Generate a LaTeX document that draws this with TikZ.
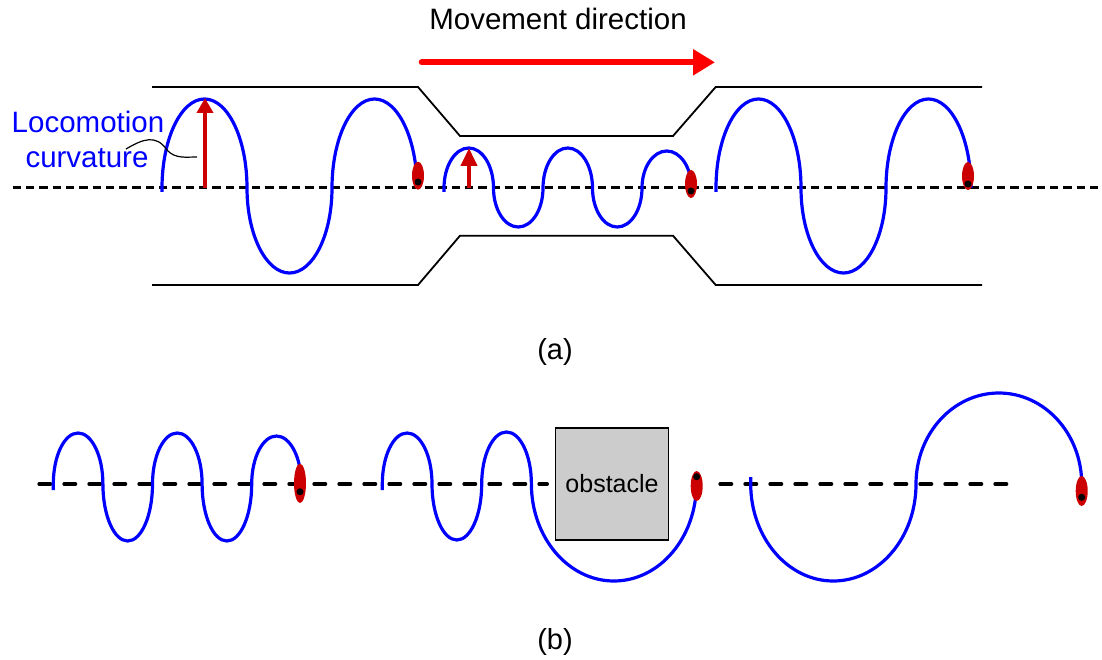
\documentclass[tikz,border=0pt]{standalone}
\usepackage{fontspec}
\setmainfont{Liberation Sans}
\usetikzlibrary{arrows.meta}
\definecolor{snakeblue}{HTML}{0000FF}
\definecolor{headred}{HTML}{CC0000}
\definecolor{movered}{HTML}{FF0000}
\definecolor{obstgray}{HTML}{CCCCCC}
\begin{document}
\begin{tikzpicture}[x=1pt,y=-1pt,
  body/.style={snakeblue, line width=3.2pt},
  wall/.style={black, line width=1.8pt},
  axistop/.style={black, line width=3pt, dash pattern=on 8.3pt off 5pt},
  axisbot/.style={black, line width=4pt, line cap=round, dash pattern=on 11pt off 14pt},
  curvarrow/.style={headred, line width=4pt},
  headshape/.style={fill=headred},
  eye/.style={fill=black},
  lbl/.style={font=\fontsize{29.5}{35}\selectfont, inner sep=0pt},
  sublbl/.style={font=\fontsize{29}{34}\selectfont, inner sep=0pt}]
\useasboundingbox (0,0) rectangle (1102,660);

% ---------- (a) ----------
\node[lbl, anchor=base] (movtxt) at (558,29.3) {Movement direction};
\coordinate (mvS) at (421.7,62.3);
\coordinate (mvE) at (715,62.3);
\draw[movered, line width=6pt, line cap=round, -{Triangle[length=22pt,width=25pt]}] (mvS) -- (mvE);

% walls
\draw[wall] (152,87) -- (418,87) -- (460,136) -- (673,136) -- (715.7,87) -- (982,87);
\draw[wall] (152,285) -- (418,285) -- (460,235.7) -- (673,235.7) -- (715.7,285) -- (982,285);

% axis
\coordinate (axAS) at (12.7,188);
\coordinate (axAE) at (1102,188);
\draw[axistop] (axAS) -- (axAE);

% snakes
\draw[body] (162,192) -- (162,188)
  arc[start angle=180,end angle=360,x radius=42.5,y radius=89]
  arc[start angle=180,end angle=0,x radius=42.5,y radius=85]
  arc[start angle=180,end angle=360,x radius=42.5,y radius=89];
\draw[body] (444,192) -- (444,188)
  arc[start angle=180,end angle=360,x radius=24.75,y radius=40]
  arc[start angle=180,end angle=0,x radius=24.75,y radius=39]
  arc[start angle=180,end angle=360,x radius=24.75,y radius=40]
  arc[start angle=180,end angle=0,x radius=24.75,y radius=39]
  arc[start angle=180,end angle=360,x radius=24.75,y radius=37];
\draw[body] (716,192) -- (716,188)
  arc[start angle=180,end angle=360,x radius=42.5,y radius=89]
  arc[start angle=180,end angle=0,x radius=42.5,y radius=85]
  arc[start angle=180,end angle=360,x radius=42.5,y radius=89];

% heads
\fill[headshape] (418,175.7) ellipse[x radius=6,y radius=14];
\fill[eye] (418,182) circle[radius=3.5];
\fill[headshape] (691,184) ellipse[x radius=6,y radius=14];
\fill[eye] (691,191) circle[radius=3.5];
\fill[headshape] (968,176) ellipse[x radius=6,y radius=14];
\fill[eye] (968,184) circle[radius=3.5];

% curvature arrows
\coordinate (c1S) at (205,188);
\coordinate (c1E) at (205,98);
\draw[curvarrow, -{Triangle[length=15pt,width=16pt]}] (c1S) -- (c1E);
\coordinate (c2S) at (469,188);
\coordinate (c2E) at (469,148);
\draw[curvarrow, -{Triangle[length=18pt,width=16pt]}] (c2S) -- (c2E);

% label
\node[lbl, anchor=base, text=snakeblue] (loco1) at (88,133) {Locomotion};
\node[lbl, anchor=base, text=snakeblue] (loco2) at (87,168) {curvature};
\coordinate (pS) at (126,149);
\coordinate (pE) at (197,157);
\draw[black, line width=1.2pt] (pS) .. controls (143,139) and (156,134) .. (167,150)
  .. controls (175,159) and (186,157) .. (pE);

\node[sublbl] (lbla) at (555,352) {(a)};

% ---------- (b) ----------
\coordinate (axB1S) at (39.3,484);
\coordinate (axB1E) at (547,484);
\draw[axisbot] (axB1S) -- (axB1E);
\coordinate (axB2S) at (720.3,484);
\coordinate (axB2E) at (1010,484);
\draw[axisbot] (axB2S) -- (axB2E);

\node[draw=black, line width=1.5pt, fill=obstgray, minimum width=112.6pt, minimum height=112.3pt,
  inner sep=0pt, font=\fontsize{25}{30}\selectfont] (obst) at (612,483.9) {obstacle};

\draw[body] (53.3,490) -- (53.3,484)
  arc[start angle=180,end angle=360,x radius=24.8,y radius=51]
  arc[start angle=180,end angle=0,x radius=24.8,y radius=57]
  arc[start angle=180,end angle=360,x radius=24.8,y radius=51]
  arc[start angle=180,end angle=0,x radius=24.8,y radius=57]
  arc[start angle=180,end angle=360,x radius=24.8,y radius=48];
\draw[body] (382.3,490) -- (382.3,484)
  arc[start angle=180,end angle=360,x radius=24.85,y radius=51]
  arc[start angle=180,end angle=0,x radius=24.85,y radius=56]
  arc[start angle=180,end angle=360,x radius=24.85,y radius=52]
  arc[start angle=180,end angle=0,x radius=82.5,y radius=97];
\draw[body] (750.7,477) -- (750.7,484)
  arc[start angle=180,end angle=0,x radius=82.65,y radius=97]
  arc[start angle=180,end angle=360,x radius=82.85,y radius=91];

\fill[headshape] (300,483.3) ellipse[x radius=6,y radius=19.7];
\fill[eye] (300,491.7) circle[radius=3.5];
\fill[headshape] (696.7,486) ellipse[x radius=6,y radius=15];
\fill[eye] (696.7,476.7) circle[radius=3.5];
\fill[headshape] (1081.7,491) ellipse[x radius=6,y radius=15];
\fill[eye] (1081.7,497.3) circle[radius=3.5];

\node[sublbl] (lblb) at (555,642) {(b)};
\end{tikzpicture}
\end{document}
